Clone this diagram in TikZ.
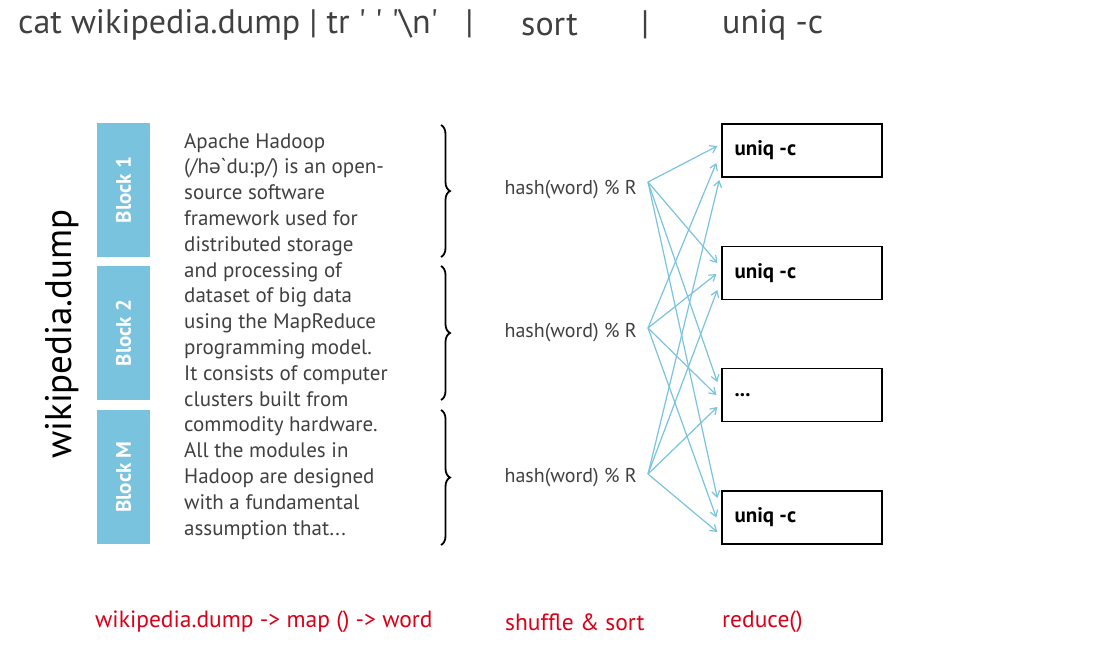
\documentclass[tikz,border=0pt]{standalone}
\usepackage{fontspec}
\newfontfamily\pts{PT Sans}
\newfontfamily\djv{DejaVu Sans}
\usetikzlibrary{arrows.meta,decorations.pathreplacing}
\definecolor{blk}{RGB}{122,195,222}
\definecolor{txt}{RGB}{64,64,64}
\definecolor{redl}{RGB}{218,0,24}
\tikzset{
  title/.style={font=\pts\fontsize{34}{36}\selectfont, text=txt, inner sep=0pt},
  blockbox/.style={fill=blk, draw=none, minimum width=53pt, minimum height=134pt, inner sep=0pt},
  blocklabel/.style={font=\pts\bfseries\fontsize{21}{23}\selectfont, text=white, rotate=90, inner sep=0pt},
  hashlabel/.style={font=\pts\fontsize{20}{22}\selectfont, text=txt, inner sep=0pt, anchor=east},
  redbox/.style={draw=black, line width=1.4pt, minimum width=160pt, minimum height=53pt, inner sep=0pt},
  boxlabel/.style={font=\pts\bfseries\fontsize{21}{23}\selectfont, text=black, inner sep=0pt, anchor=west},
  redlabel/.style={font=\pts\fontsize{23.5}{25}\selectfont, text=redl, inner sep=0pt, anchor=west},
  flow/.style={draw=blk, line width=1.2pt, -{Straight Barb[length=6pt,width=8pt]}},
  bracestyle/.style={decorate, decoration={brace, amplitude=9pt}, line width=1.8pt},
}
\begin{document}
\begin{tikzpicture}[x=1pt,y=-1pt]
\useasboundingbox (0,0) rectangle (1100,646);
% title
\node[title, anchor=west] (t1) at (18,25) {cat wikipedia.dump | tr ' ' '\textbackslash n'\ \ \ |};
\node[title, anchor=west] (t2) at (521,25) {sort};
\node[title, anchor=west] (t3) at (641,25) {|};
\node[title, anchor=west] (t4) at (722,25) {uniq -c};
% file name
\node[font=\pts\fontsize{37}{39}\selectfont, text=black, rotate=90, inner sep=0pt] (wd) at (62,334) {wikipedia.dump};
% blocks
\node[blockbox] (k1) at (123.5,190) {};
\node[blockbox] (k2) at (123.5,333) {};
\node[blockbox] (k3) at (123.5,477) {};
\node[blocklabel] at (k1) {Block 1};
\node[blocklabel] at (k2) {Block 2};
\node[blocklabel] at (k3) {Block M};
% body text
\node[font=\pts\fontsize{21}{25.8}\selectfont, text=txt, align=left, anchor=north west, inner sep=0pt] (body) at (184,133) {Apache Hadoop\\(/h{\djv\fontsize{19}{21}\selectfont ə}`du:p/) is an open-\\source software\\framework used for\\distributed storage\\and processing of\\dataset of big data\\using the MapReduce\\programming model.\\It consists of computer\\clusters built from\\commodity hardware.\\All the modules in\\Hadoop are designed\\with a fundamental\\assumption that...};
% braces
\coordinate (br1a) at (441,125); \coordinate (br1b) at (441,257);
\coordinate (br2a) at (441,266); \coordinate (br2b) at (441,400);
\coordinate (br3a) at (441,410); \coordinate (br3b) at (441,545);
\draw[bracestyle] (br1a) -- (br1b);
\draw[bracestyle] (br2a) -- (br2b);
\draw[bracestyle] (br3a) -- (br3b);
% hash labels
\node[hashlabel] (h1) at (637,190) {hash(word) \% R};
\node[hashlabel] (h2) at (637,333) {hash(word) \% R};
\node[hashlabel] (h3) at (637,478) {hash(word) \% R};
\coordinate (s1) at ([shift={(11,-8)}]h1.east);
\coordinate (s2) at ([shift={(11,-5)}]h2.east);
\coordinate (s3) at ([shift={(11,-4)}]h3.east);
% reducer boxes
\node[redbox] (b1) at (802,150.5) {};
\node[redbox] (b2) at (802,273) {};
\node[redbox] (b3) at (802,395) {};
\node[redbox] (b4) at (802,517.5) {};
\node[boxlabel] at ([xshift=13]b1.west) {uniq -c};
\node[boxlabel] at ([xshift=13]b2.west) {uniq -c};
\node[boxlabel] at ([xshift=13]b3.west) {...};
\node[boxlabel] at ([xshift=13]b4.west) {uniq -c};
% arrows
\draw[flow] (s1) -- ([shift={(-4,-4.5)}]b1.west);
\draw[flow] (s1) -- ([shift={(-4,-10)}]b2.west);
\draw[flow] (s1) -- ([shift={(-4,-13)}]b3.west);
\draw[flow] (s1) -- ([shift={(-4,-19.5)}]b4.west);
\draw[flow] (s2) -- ([shift={(-5,12.5)}]b1.west);
\draw[flow] (s2) -- ([shift={(-5,1)}]b2.west);
\draw[flow] (s2) -- ([shift={(-5,0)}]b3.west);
\draw[flow] (s2) -- ([shift={(-5,0)}]b4.west);
\draw[flow] (s3) -- ([shift={(-2,29.5)}]b1.west);
\draw[flow] (s3) -- ([shift={(-4,17)}]b2.west);
\draw[flow] (s3) -- ([shift={(-4,12)}]b3.west);
\draw[flow] (s3) -- ([shift={(-4,14.5)}]b4.west);
% bottom labels
\node[redlabel] (r1) at (95,622) {wikipedia.dump -> map () -> word};
\node[redlabel] (r2) at (505,622) {shuffle \& sort};
\node[redlabel] (r3) at (722,622) {reduce()};
\end{tikzpicture}
\end{document}
